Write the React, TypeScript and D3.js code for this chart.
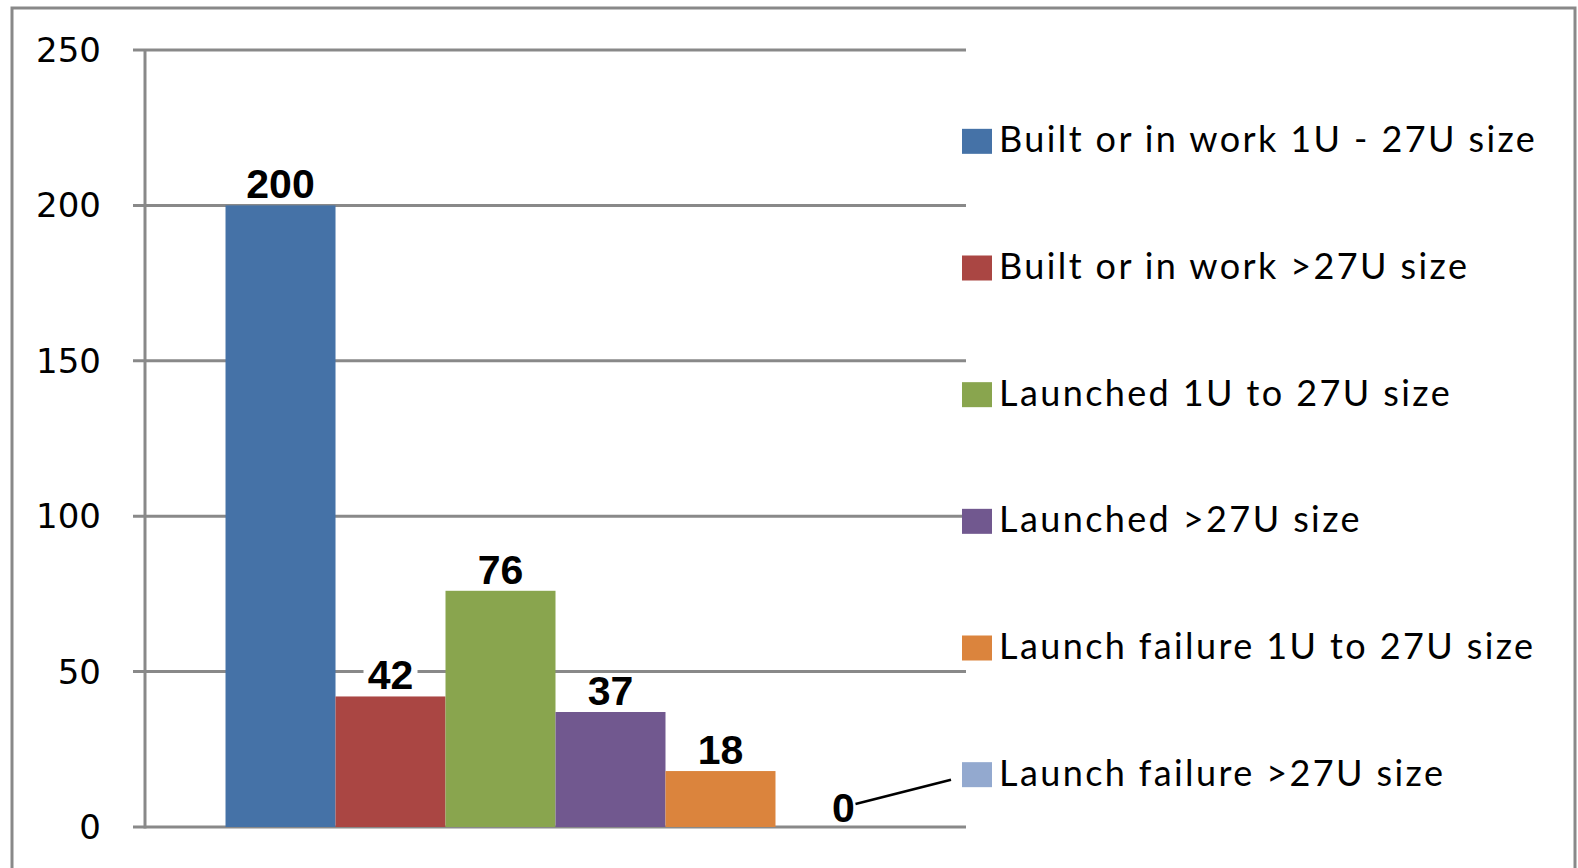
import React from "react";
import { scaleLinear, scaleBand } from "d3";

const seriesNames = [
  "Built or in work 1U - 27U size",
  "Built or in work >27U size",
  "Launched 1U to 27U size",
  "Launched >27U size",
  "Launch failure 1U to 27U size",
  "Launch failure >27U size",
];
const seriesValues = [200, 42, 76, 37, 18, 0];
const seriesColors = ["#4572A7", "#AA4643", "#89A54E", "#71588F", "#DB843D", "#93A9CF"];
const yTicks = [0, 50, 100, 150, 200, 250];

const W = 1578;
const H = 868;
const plot = { left: 145, right: 966, top: 50, bottom: 827 };
const grid = "#898989";

export default function App() {
  const y = scaleLinear().domain([0, 250]).range([plot.bottom, plot.top]);
  const group = scaleBand().domain(["all"]).range([plot.left, plot.right]).paddingOuter(0.122);
  const x = scaleBand()
    .domain(seriesNames)
    .range([group("all")!, group("all")! + group.bandwidth()]);

  const legendY = scaleBand().domain(seriesNames).range([78, 838]);
  const legendX = 962;

  const lastName = seriesNames[seriesNames.length - 1];
  const zeroLabelX = x(lastName)! + x.bandwidth() / 2 + 13;
  const zeroLabelY = y(0) - 5;
  const lastLegendMid = legendY(lastName)! + legendY.bandwidth() / 2;

  return (
    <svg
      width={W}
      height={H}
      style={{ position: "absolute", left: 0, top: 0, background: "#fff" }}
    >
      <rect x={12} y={8} width={1563} height={870} fill="#fff" stroke={grid} strokeWidth={3} />

      {yTicks.map((t) => (
        <g key={t}>
          <line x1={plot.left - 12} x2={plot.right} y1={y(t)} y2={y(t)} stroke={grid} strokeWidth={3} />
          <text
            x={101}
            y={y(t)}
            textAnchor="end"
            dominantBaseline="central"
            fontFamily="DejaVu Sans"
            fontSize={34}
            fill="#000"
          >
            {t}
          </text>
        </g>
      ))}
      <line x1={plot.left} x2={plot.left} y1={plot.top} y2={plot.bottom + 1.5} stroke={grid} strokeWidth={3} />

      {seriesNames.map((name, i) => (
        <rect
          key={name}
          x={x(name)}
          y={y(seriesValues[i])}
          width={x.bandwidth()}
          height={y(0) - y(seriesValues[i])}
          fill={seriesColors[i]}
        />
      ))}

      {seriesNames.slice(0, -1).map((name, i) => {
        const cx = x(name)! + x.bandwidth() / 2;
        const by = y(seriesValues[i]) - 7;
        const w = String(seriesValues[i]).length * 23 + 8;
        return (
          <g key={name}>
            <rect x={cx - w / 2} y={by - 31} width={w} height={32} fill="#fff" />
            <text
              x={cx}
              y={by}
              textAnchor="middle"
              fontFamily="Liberation Sans, Arial"
              fontWeight="bold"
              fontSize={41}
              fill="#000"
            >
              {seriesValues[i]}
            </text>
          </g>
        );
      })}

      <line
        x1={zeroLabelX + 12}
        y1={zeroLabelY - 18}
        x2={legendX - 11}
        y2={lastLegendMid + 5}
        stroke="#000"
        strokeWidth={2.5}
      />
      <text
        x={zeroLabelX}
        y={zeroLabelY}
        textAnchor="middle"
        fontFamily="Liberation Sans, Arial"
        fontWeight="bold"
        fontSize={41}
        fill="#000"
      >
        {seriesValues[seriesValues.length - 1]}
      </text>

      {seriesNames.map((name, i) => {
        const cy = legendY(name)! + legendY.bandwidth() / 2;
        return (
          <g key={name}>
            <rect x={legendX} y={cy - 12.5} width={30} height={25} fill={seriesColors[i]} />
            <text
              x={legendX + 37}
              y={cy - 3}
              dominantBaseline="central"
              fontFamily="Lato"
              fontSize={36}
              letterSpacing={2.4}
              fill="#000"
            >
              {name}
            </text>
          </g>
        );
      })}
    </svg>
  );
}
